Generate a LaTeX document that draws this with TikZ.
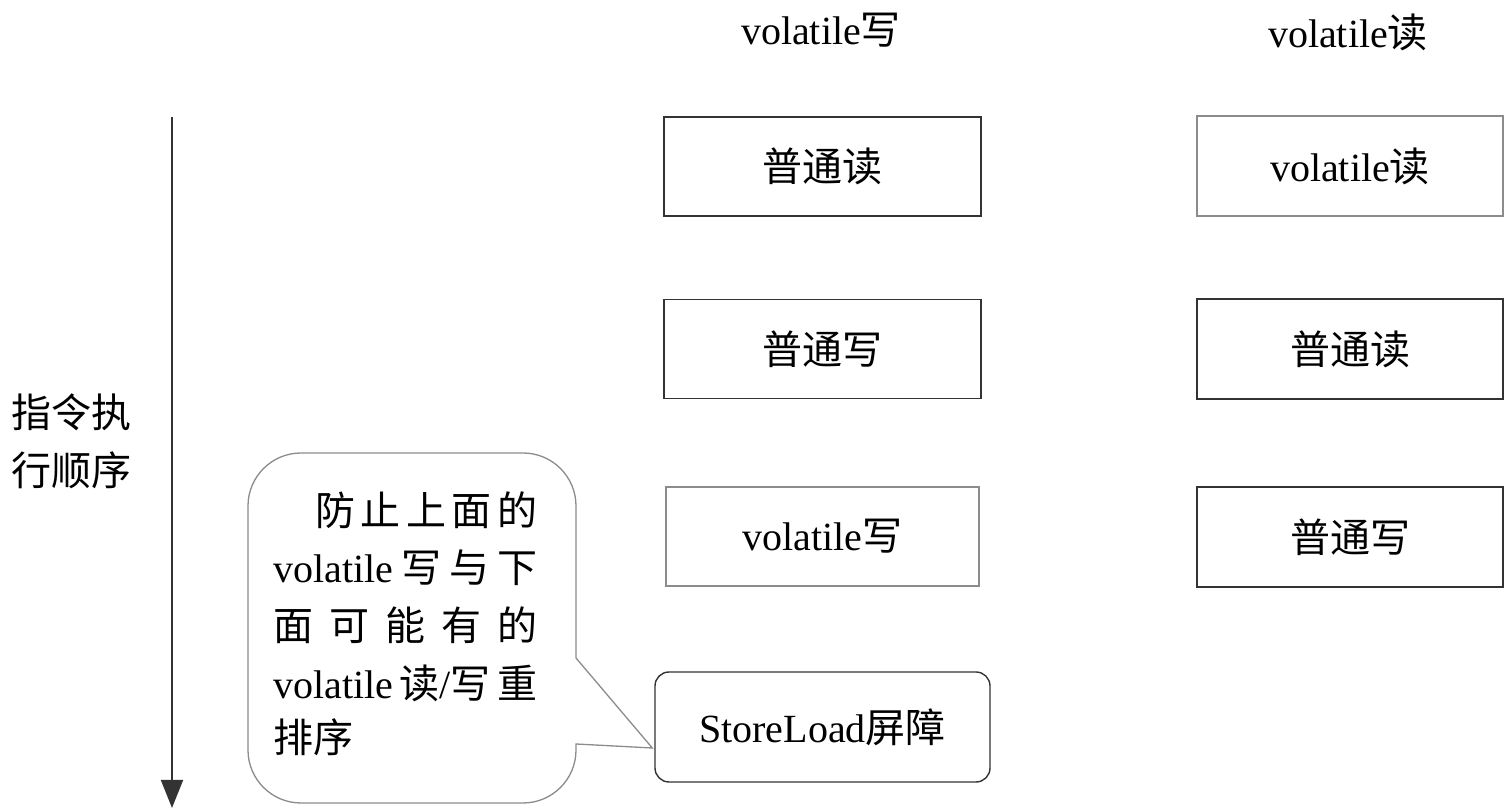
\documentclass[tikz,border=0pt]{standalone}
\usepackage{fontspec}
\setmainfont{Liberation Serif}
\newfontfamily\cjk{Noto Sans CJK SC}
\usetikzlibrary{arrows.meta,calc}
\newcommand\zh[1]{{\cjk #1}}
\definecolor{dk}{gray}{0.2}
\definecolor{lt}{gray}{0.55}
\begin{document}
\begin{tikzpicture}[x=1pt,y=1pt,
  txt/.style={font=\fontsize{40}{48}\selectfont, inner sep=0pt},
  box/.style={draw=#1, line width=1.6pt, inner sep=0pt, minimum height=99pt,
              font=\fontsize{40}{48}\selectfont},
  rbox/.style={draw=#1, line width=1.4pt, inner sep=0pt, rounded corners=14pt,
              font=\fontsize{40}{48}\selectfont},
  flow/.style={line width=1.6pt, draw=dk, -{Triangle[width=22pt,length=28pt]}},
  bubble/.style={draw=lt, line width=1.3pt, fill=white}
]
\useasboundingbox (0,0) rectangle (1509,810);

% headers
\node[txt] (hw) at (821,780) {volatile\zh{写}};
\node[txt] (hr) at (1348,778) {volatile\zh{读}};

% left column
\node[box=dk, minimum width=317pt] (l1) at (822.5,643.5) {\zh{普通读}};
\node[box=dk, minimum width=317pt] (l2) at (822.5,461) {\zh{普通写}};
\node[box=lt, minimum width=313pt] (l3) at (822.5,273.5) {volatile\zh{写}};
\node[rbox=dk, minimum width=335pt, minimum height=110pt] (sl) at (822.5,83) {StoreLoad\zh{屏障}};

% right column
\node[box=lt, minimum width=306pt, minimum height=100pt] (r1) at (1350,644) {volatile\zh{读}};
\node[box=dk, minimum width=306pt, minimum height=100pt] (r2) at (1350,461) {\zh{普通读}};
\node[box=dk, minimum width=306pt, minimum height=100pt] (r3) at (1350,273) {\zh{普通写}};

% order arrow
\coordinate (atop) at (172,693);
\coordinate (abot) at (172,2);
\draw[flow] (atop) -- (abot);
\node[txt, align=center, font=\fontsize{40}{58}\selectfont] (lbl) at (71,369) {\zh{指令执}\\\zh{行顺序}};

% callout
\coordinate (tip) at ($(sl.west)+(-2pt,-21pt)$);
\draw[bubble] (301,357) -- (523,357) arc[start angle=90,end angle=0,radius=53]
  -- (576,152) -- (tip) -- (576,66) -- (576,60)
  arc[start angle=0,end angle=-90,radius=53] -- (301,7)
  arc[start angle=270,end angle=180,radius=53] -- (248,304)
  arc[start angle=180,end angle=90,radius=53] -- cycle;

\node[txt, anchor=west] (c1) at (315,300) {\makebox[222pt]{\zh{防}\hfill\zh{止}\hfill\zh{上}\hfill\zh{面}\hfill\zh{的}}};
\node[txt, anchor=west] (c2) at (273,242) {\makebox[264pt]{volatile\hfill\zh{写}\hfill\zh{与}\hfill\zh{下}}};
\node[txt, anchor=west] (c3) at (273,185) {\makebox[264pt]{\zh{面}\hfill\zh{可}\hfill\zh{能}\hfill\zh{有}\hfill\zh{的}}};
\node[txt, anchor=west] (c4) at (273,127) {\makebox[264pt]{volatile\hfill\zh{读}/\zh{写}\hfill\zh{重}}};
\node[txt, anchor=west] (c5) at (273,73) {\zh{排序}};
\end{tikzpicture}
\end{document}
